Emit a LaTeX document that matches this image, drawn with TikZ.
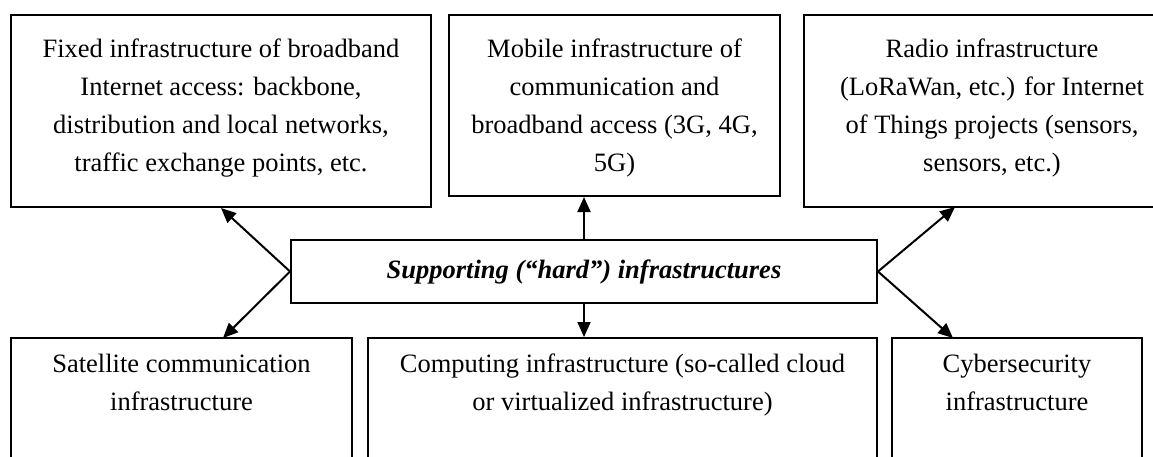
\documentclass[tikz,border=0pt]{standalone}
\usepackage{fontspec}
\setmainfont{Liberation Serif}
\usetikzlibrary{arrows.meta,positioning}

\tikzset{
	box/.style={draw, line width=2pt, inner sep=0pt},
	txt/.style={align=center, inner sep=0pt, font=\fontsize{26.5}{38}\selectfont},
	arr/.style={-{Triangle[length=15pt,width=13pt]}, line width=2pt}
}

\begin{document}
\begin{tikzpicture}[x=1pt,y=-1pt]
	\useasboundingbox (0,0) rectangle (1153,457);
	\clip (0,0) rectangle (1153,457);
	
	% top row
	\node[box, minimum width=420pt, minimum height=192pt] (fixed) at (221,111) {};
	\node[box, minimum width=331pt, minimum height=181pt] (mobile) at (614.5,105.5) {};
	\node[box, minimum width=376pt, minimum height=192pt] (radio) at (992,111) {};
	\node[txt, below=25pt of fixed.north] (fixedtxt) {Fixed infrastructure of broadband\\Internet access: backbone,\\distribution and local networks,\\traffic exchange points, etc.};
	\node[txt, below=25pt of mobile.north] (mobiletxt) {Mobile infrastructure of\\communication and\\broadband access (3G, 4G,\\5G)};
	\node[txt, below=25pt of radio.north] (radiotxt) {Radio infrastructure\\(LoRaWan, etc.) for Internet\\of Things projects (sensors,\\sensors, etc.)};
	
	% centre
	\node[box, txt, minimum width=586pt, minimum height=63pt] (hard) at (584,271.5) {\textbf{\textit{Supporting (“hard”) infrastructures}}};
	
	% bottom row
	\node[box, minimum width=341pt, minimum height=162pt] (sat) at (181.5,419) {};
	\node[box, minimum width=509pt, minimum height=162pt] (comp) at (622.5,419) {};
	\node[box, minimum width=250pt, minimum height=162pt] (cyber) at (1017,419) {};
	\node[txt, below=17pt of sat.north] (sattxt) {Satellite communication\\infrastructure};
	\node[txt, below=17pt of comp.north] (comptxt) {Computing infrastructure (so-called cloud\\or virtualized infrastructure)};
	\node[txt, below=17pt of cyber.north] (cybertxt) {Cybersecurity\\infrastructure};
	
	\coordinate (radiotip) at (955,207);
	\coordinate (sattip) at (223,338);
	\coordinate (cybertip) at (953,338);
	
	\draw[arr] (hard.west) -- (fixed.south);
	\draw[arr] (hard.north) -- (hard.north |- mobile.south);
	\draw[arr] (hard.east) -- (radiotip);
	\draw[arr] (hard.west) -- (sattip);
	\draw[arr] (hard.south) -- (hard.south |- comp.north);
	\draw[arr] (hard.east) -- (cybertip);
\end{tikzpicture}
\end{document}
